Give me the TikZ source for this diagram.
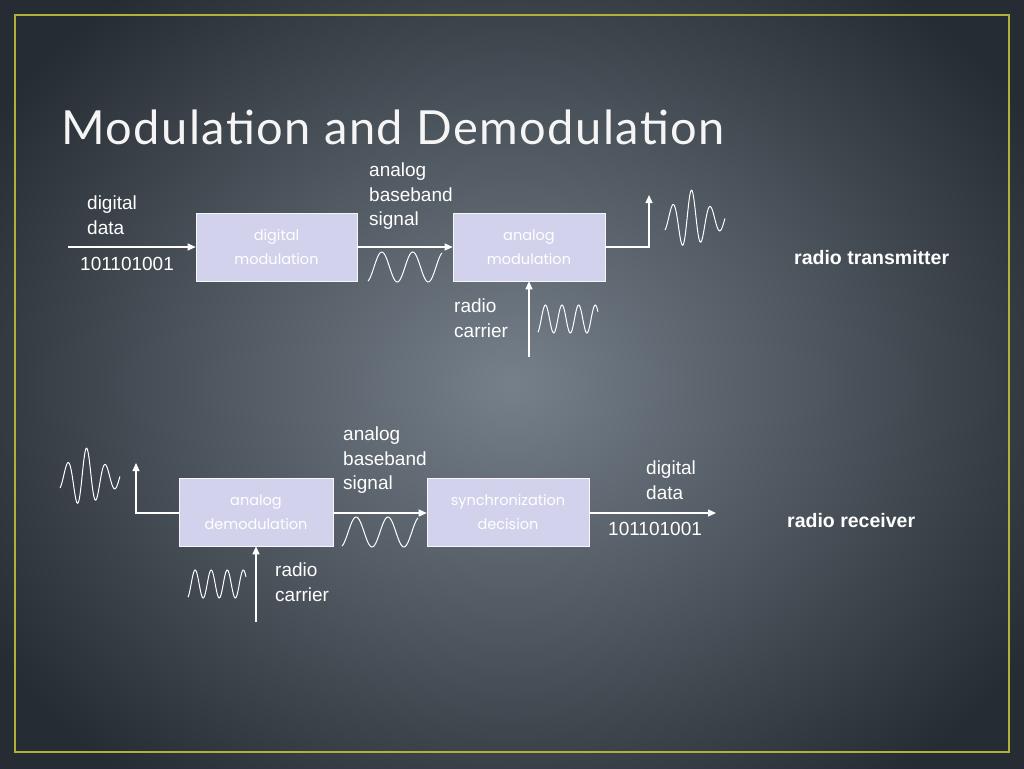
\documentclass[tikz,border=0pt]{standalone}
\usepackage{fontspec}
\setmainfont{Liberation Sans}
\newfontfamily\titlefont[LetterSpace=3]{Lato}
\newfontfamily\boxfont{Poppins}
\usetikzlibrary{arrows.meta}
\definecolor{bgin}{HTML}{76808A}
\definecolor{bgout}{HTML}{262C33}
\definecolor{frame}{HTML}{B4AE3A}
\definecolor{boxfill}{HTML}{D2D2EC}
\tikzset{
  blk/.style={draw=white!80!boxfill, line width=0.6pt, fill=boxfill, minimum width=#1, minimum height=68pt, inner sep=0pt, text=white, font=\boxfont\fontsize{14.5}{24}\selectfont, align=center},
  lbl/.style={text=white, font=\fontsize{19}{24.5}\selectfont, align=left, anchor=north west, inner sep=0pt},
  bold/.style={text=white, font=\bfseries\fontsize{19.5}{20}\selectfont, anchor=north west, inner sep=0pt},
  conn/.style={draw=white, line width=1.2pt, -{Triangle[length=8pt,width=7pt]}},
  wave/.style={draw=white, line width=1pt}
}
\begin{document}
\begin{tikzpicture}[x=1pt,y=-1pt]
\useasboundingbox (0,0) rectangle (1024,768);
\shade[inner color=bgin, outer color=bgout] (-100,-120) rectangle (1124,888);
\draw[frame, line width=1.5pt] (15,15) rectangle (1009,752);
\node[anchor=west, text=white!92!gray, font=\titlefont\fontsize{47}{50}\selectfont] (title) at (58,127) {Modulation and Demodulation};
% transmitter
\node[blk=161pt] (dm) at (276.5,247) {digital\\modulation};
\node[blk=152pt] (am) at (529,247) {analog\\modulation};
\coordinate (in1) at (68,247);
\coordinate (corner1) at (649,247);
\coordinate (up1) at (649,195);
\coordinate (car1) at (529,357);
\draw[conn] (in1) -- (dm.west);
\draw[conn] (dm.east) -- (am.west);
\draw[conn] (am.east) -- (corner1) -- (up1);
\draw[conn] (car1) -- (am.south);
\node[lbl] (t1) at (87,196) {digital\\data};
\node[lbl] (t2) at (80,257) {101101001};
\node[lbl] (t3) at (369,163) {analog\\baseband\\signal};
\node[lbl] (t4) at (454,299) {radio\\carrier};
\node[bold] (t5) at (794,250) {radio transmitter};
\draw[wave] plot[domain=0:1, samples=80] ({368+74*\x},{267+15*cos(20+860*\x)});
\draw[wave] plot[domain=0:1, samples=80] ({538+60*\x},{319+14*cos(20+1300*\x)});
\draw[wave] plot[domain=0:1, samples=120] ({665+60*\x},{220+30*(0.35+0.65*exp(-((\x-0.42)^2)/0.06))*cos(30+1150*\x)});
% receiver
\node[blk=154pt] (ad) at (256,512) {analog\\demodulation};
\node[blk=162pt] (sd) at (508,512) {synchronization\\decision};
\coordinate (corner2) at (136,513);
\coordinate (up2) at (136,463);
\coordinate (car2) at (256,622);
\coordinate (out2) at (716,513);
\draw[conn] (ad.west|-corner2) -- (corner2) -- (up2);
\draw[conn] (ad.east|-corner2) -- (sd.west|-corner2);
\draw[conn] (sd.east|-corner2) -- (out2);
\draw[conn] (car2) -- (ad.south);
\node[lbl] (r1) at (343,427) {analog\\baseband\\signal};
\node[lbl] (r2) at (646,461) {digital\\data};
\node[lbl] (r3) at (608,522) {101101001};
\node[lbl] (r4) at (275,563) {radio\\carrier};
\node[bold] (r5) at (787,513) {radio receiver};
\draw[wave] plot[domain=0:1, samples=80] ({342+76*\x},{532+15*cos(20+860*\x)});
\draw[wave] plot[domain=0:1, samples=80] ({188+58*\x},{584+14*cos(20+1300*\x)});
\draw[wave] plot[domain=0:1, samples=120] ({60+60*\x},{478+30*(0.35+0.65*exp(-((\x-0.42)^2)/0.06))*cos(30+1150*\x)});
\end{tikzpicture}
\end{document}
